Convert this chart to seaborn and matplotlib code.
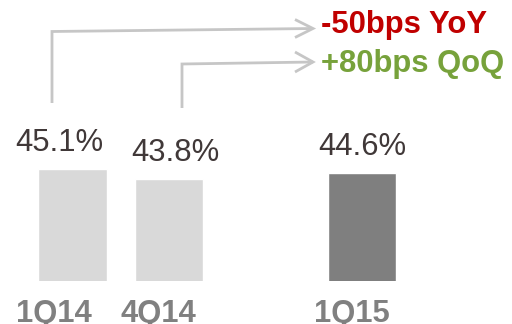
import matplotlib
matplotlib.use("Agg")
import matplotlib.pyplot as plt
from matplotlib.lines import Line2D
import seaborn as sns
import pandas as pd

# Gross margin by quarter
quarters = ["1Q14", "4Q14", "1Q15"]
margins = [45.1, 43.8, 44.6]
slot_order = ["1Q14", "4Q14", " ", "1Q15"]
bar_colors = ["#d9d9d9", "#d9d9d9", "#7f7f7f"]
changes = ["-50bps YoY", "+80bps QoQ"]
change_colors = ["#c00000", "#77a23b"]

sns.set_theme(style="white")
plt.rcParams["font.family"] = ["Liberation Sans", "DejaVu Sans"]

W, H = 512, 324
fig = plt.figure(figsize=(W / 100, H / 100), dpi=100)
base_px = 43.3          # baseline height above figure bottom (px)
ax = fig.add_axes([0, base_px / H, 1, 1 - base_px / H])

df = pd.DataFrame({"quarter": quarters, "margin": margins})
sns.barplot(data=df, x="quarter", y="margin", hue="quarter", order=slot_order,
            palette=dict(zip(quarters, bar_colors)), width=0.715,
            legend=False, ax=ax, saturation=1)

slot_px = 96.5
ax.set_xlim(-72.5 / slot_px, (W - 72.5) / slot_px)
px_per_pt = 7.69
ymin = 30.58
ax.set_ylim(ymin, ymin + (H - base_px) / px_per_pt)
ax.set_axis_off()

positions = [slot_order.index(q) for q in quarters]
value_dx = [-13.5, 6, 0]
label_dx = [-19, -11, -10]
for pos, val, dxv, dxl in zip(positions, margins, value_dx, label_dx):
    ax.annotate(f"{val}%", xy=(pos, val), xytext=(dxv, 18),
                textcoords="offset pixels", ha="center", va="baseline",
                fontsize=22.3, color="#403838")
    ax.annotate(quarters[positions.index(pos)], xy=(pos, ymin),
                xytext=(dxl, -41.3), textcoords="offset pixels",
                ha="center", va="baseline", fontsize=22.3,
                fontweight="bold", color="#808080", annotation_clip=False)

# Connector arrows (figure pixel coordinates, origin bottom-left)
def fp(x, y_top):
    return x / W, (H - y_top) / H

grey = "#c6c6c6"
paths = [
    [(52, 103), (52, 31.5), (313, 28.5)],
    [(182, 108), (182, 64), (313, 62)],
]
heads = [
    [(295, 19.5), (313, 28.5), (295, 37.5)],
    [(295, 52), (313, 62), (295, 72)],
]
for pts in paths + heads:
    xs, ys = zip(*[fp(x, y) for x, y in pts])
    fig.add_artist(Line2D(xs, ys, transform=fig.transFigure, color=grey,
                          lw=2, solid_joinstyle="miter", solid_capstyle="butt"))

for txt, col, y in zip(changes, change_colors, [33, 72]):
    fx, fy = fp(321, y)
    fig.text(fx, fy, txt, color=col, fontsize=22.3, fontweight="bold",
             ha="left", va="baseline")

fig.savefig("out.png", dpi=100, facecolor="white")
